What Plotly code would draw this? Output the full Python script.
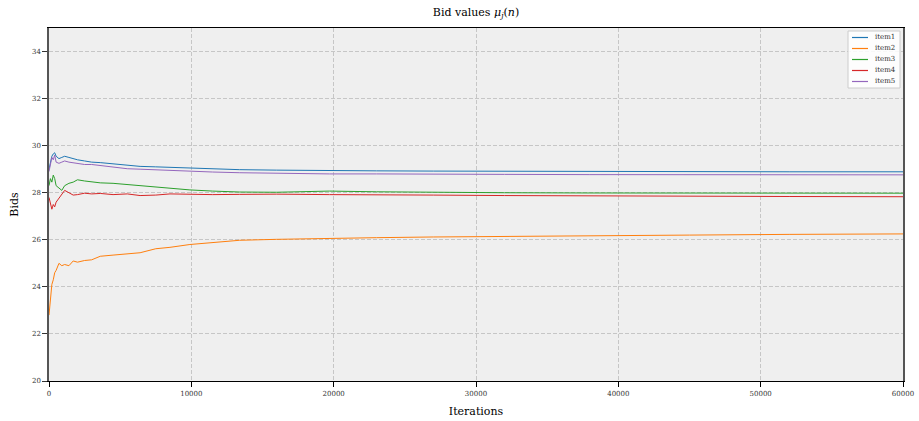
import plotly.graph_objects as go

iterations = [0, 100, 200, 300, 400, 500, 700, 900, 1100, 1400, 1700, 2000, 2500, 3000,
              3600, 4500, 5500, 6400, 7500, 8500, 9900, 11500, 13400, 16000, 19700,
              23000, 27000, 32000, 38000, 45000, 52000, 60000]

item1 = [29.0, 29.3, 29.55, 29.65, 29.7, 29.55, 29.45, 29.5, 29.55, 29.5, 29.45, 29.4, 29.35, 29.3,
         29.28, 29.22, 29.15, 29.12, 29.1, 29.08, 29.03, 29.0, 28.98, 28.96, 28.93,
         28.93, 28.92, 28.91, 28.9, 28.9, 28.89, 28.89]
item2 = [22.8, 23.6, 24.1, 24.3, 24.6, 24.7, 25.0, 24.9, 24.95, 24.9, 25.1, 25.05, 25.12, 25.15,
         25.3, 25.35, 25.4, 25.45, 25.62, 25.68, 25.8, 25.88, 25.98, 26.02, 26.07,
         26.09, 26.12, 26.15, 26.18, 26.2, 26.23, 26.25]
item3 = [28.3, 28.6, 28.45, 28.75, 28.6, 28.3, 28.2, 28.1, 28.3, 28.4, 28.45, 28.55, 28.5, 28.45,
         28.42, 28.4, 28.35, 28.3, 28.22, 28.18, 28.12, 28.07, 28.03, 28.02, 28.07,
         28.04, 28.01, 28.0, 27.99, 27.99, 27.98, 27.98]
item4 = [27.8, 27.5, 27.3, 27.5, 27.4, 27.6, 27.75, 27.95, 28.1, 28.0, 27.9, 27.92, 27.98, 27.95,
         27.97, 27.92, 27.95, 27.88, 27.9, 27.95, 27.93, 27.92, 27.93, 27.94, 27.92,
         27.9, 27.9, 27.88, 27.86, 27.86, 27.84, 27.83]
item5 = [28.9, 29.2, 29.5, 29.4, 29.6, 29.3, 29.25, 29.3, 29.35, 29.3, 29.28, 29.25, 29.2, 29.2,
         29.15, 29.08, 29.02, 29.0, 28.97, 28.95, 28.92, 28.88, 28.85, 28.82, 28.8,
         28.8, 28.78, 28.78, 28.77, 28.77, 28.76, 28.76]

names = ["item1", "item2", "item3", "item4", "item5"]
series = [item1, item2, item3, item4, item5]
colors = ["#1f77b4", "#ff7f0e", "#2ca02c", "#d62728", "#9467bd"]

x_ticks = [0, 10000, 20000, 30000, 40000, 50000, 60000]
y_ticks = [20, 22, 24, 26, 28, 30, 32, 34]

W, H = 919, 421
L, R, T, B = 49, 16, 28, 40
PW, PH = W - L - R, H - T - B

fig = go.Figure()
for n, s, c in zip(names, series, colors):
    fig.add_trace(go.Scatter(x=iterations, y=s, mode="lines", name=n,
                             line=dict(color=c, width=1), showlegend=False))

font = "DejaVu Serif"
grid = dict(showgrid=True, gridcolor="#c6c6c6", griddash="4px,2px", gridwidth=1,
            zeroline=False, ticks="outside", ticklen=5, automargin=False,
            tickfont=dict(family=font, size=7, color="#333333"))

# manual compact legend (matplotlib style), positioned in window pixels
def px2x(px):
    return (px - L) / PW

def py2y(py):
    return 1 - (py - T) / PH

shapes = [dict(type="rect", xref="paper", yref="paper",
               x0=px2x(848), x1=px2x(900), y0=py2y(88), y1=py2y(31),
               fillcolor="rgba(255,255,255,0.85)", line=dict(color="#cccccc", width=1),
               layer="above")]
annotations = []
for i, (n, c) in enumerate(zip(names, colors)):
    yy = 37.5 + i * 11
    shapes.append(dict(type="line", xref="paper", yref="paper",
                       x0=px2x(852), x1=px2x(868), y0=py2y(yy), y1=py2y(yy),
                       line=dict(color=c, width=1.2), layer="above"))
    annotations.append(dict(xref="paper", yref="paper", x=px2x(873), y=py2y(yy),
                            xanchor="left", yanchor="middle", text=n, showarrow=False,
                            font=dict(family=font, size=7, color="#333333")))

fig.update_layout(
    width=W, height=H,
    margin=dict(l=L, r=R, t=T, b=B),
    paper_bgcolor="white", plot_bgcolor="#efefef",
    font=dict(family=font, color="black"),
    title=dict(text="Bid values <i>μ<sub>j</sub></i>(<i>n</i>)", x=0.5, xanchor="center",
               xref="paper", yref="container", y=1 - 8 / H, yanchor="top",
               font=dict(family=font, size=11, color="black")),
    xaxis=dict(range=[0, 60000], tickvals=x_ticks, ticktext=[str(v) for v in x_ticks],
               showline=True, linecolor="black", linewidth=1.2, mirror=True, tickcolor="black",
               title=dict(text="Iterations", font=dict(family=font, size=11), standoff=10),
               **grid),
    yaxis=dict(range=[20, 35], tickvals=y_ticks, ticktext=[str(v) for v in y_ticks],
               showline=True, linecolor="#555555", linewidth=1.5, mirror=True, tickcolor="#333333",
               title=dict(text="Bids", font=dict(family=font, size=11), standoff=11),
               **grid),
    shapes=shapes,
    annotations=annotations,
    showlegend=False,
)

fig.write_html("out.html", config={"displayModeBar": False},
               post_script="document.body.style.margin='0';document.body.style.overflow='hidden';")
